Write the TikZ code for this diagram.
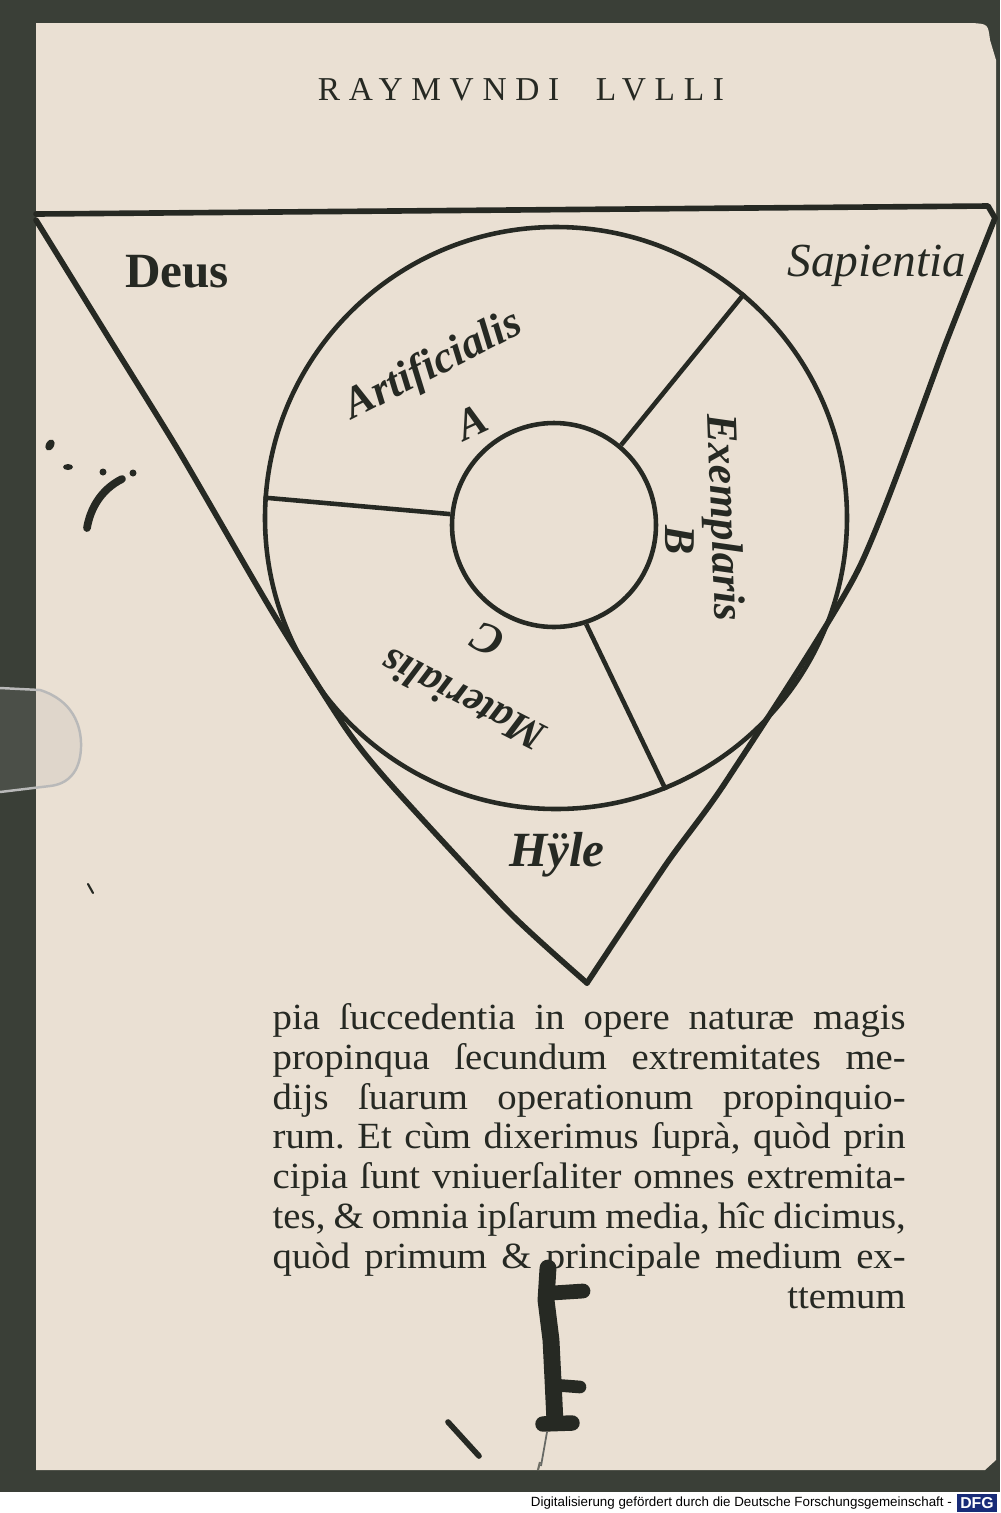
\documentclass[tikz,border=0pt]{standalone}
\usepackage{fontspec}
\setmainfont{Liberation Serif}
\newfontfamily\bodyfont[FakeStretch=1.05]{Liberation Serif}
\newfontfamily\dfgfont{Liberation Sans}
\usetikzlibrary{positioning}
\definecolor{paper}{RGB}{234,224,211}
\definecolor{inkc}{RGB}{38,41,35}
\definecolor{backc}{RGB}{58,63,55}
\definecolor{dfgblue}{RGB}{24,44,120}
\newlength{\bodyw}
\setlength{\bodyw}{63.3mm}
\frenchspacing

\begin{document}
\begin{tikzpicture}[x=0.1mm, y=-0.1mm,
    page_ink/.style={draw=inkc, line width=1.6pt, line cap=round, line join=round},
    wheel/.style={circle, draw=inkc, line width=1.3pt, inner sep=0pt},
    spoke/.style={draw=inkc, line width=1.3pt},
    goth_label/.style={text=inkc, inner sep=0pt, font=\bfseries\itshape\fontsize{12.5}{13}\selectfont},
    body_line/.style={text=inkc, anchor=base west, inner sep=0pt, font=\bodyfont\fontsize{10.5}{12}\selectfont},
    speck/.style={fill=inkc}
  ]
  % page and scanner background
  \useasboundingbox (0,0) rectangle (1000,1513);
  \fill[white] (0,0) rectangle (1000,1513);
  \fill[backc] (0,0) rectangle (1000,1492);
  \fill[paper] (36,23) -- (972,23) .. controls (988,24) .. (990,40) -- (996,60) -- (996,1460) -- (985,1470) -- (36,1470) -- cycle;
  \draw[backc!70!paper, line width=0.6pt] (538,1470) -- (540,1462);

  % running head
  \node[text=inkc, font=\fontsize{9.5}{10}\selectfont\addfontfeature{LetterSpace=26}] (head) at (521,90) {RAYMVNDI\hspace{1.1em}LVLLI};

  % the triangle
  \draw[page_ink] (36,214) -- (988,206) -- (995,218);
  \draw[page_ink] plot[smooth, tension=0.4] coordinates {(995,218) (947,340) (858,570) (727,780) (667,863) (587,983)};
  \draw[page_ink] plot[smooth, tension=0.4] coordinates {(36,220) (107,335) (180,453) (273,613) (347,730) (393,787) (510,913) (587,983)};

  % the wheel
  \node[wheel, minimum size=58.2mm] (rim) at (556,518) {};
  \node[wheel, minimum size=20.4mm] (hub) at (554,525) {};
  \draw[spoke] (hub.174) -- (rim.176);
  \draw[spoke] (hub.50) -- (rim.50);
  \draw[spoke] (hub.-72) -- (rim.-68);

  % corner words
  \node[goth_label, font=\bfseries\fontsize{14}{14}\selectfont] (deus) at (177,272) {Deus};
  \node[text=inkc, inner sep=0pt, font=\itshape\fontsize{13.5}{14}\selectfont] (sapientia) at (877,266) {Sapientia};
  \node[goth_label, font=\bfseries\itshape\fontsize{14}{14}\selectfont] (hyle) at (557,855) {Hÿle};

  % the three fields of the wheel
  \node[goth_label, rotate=27] (artificialis) at (434,366) {Artificialis};
  \node[goth_label, rotate=25] (fieldA) at (472,422) {A};
  \node[goth_label, rotate=-88] (exemplaris) at (722,518) {Exemplaris};
  \node[goth_label, rotate=-90] (fieldB) at (680,540) {B};
  \node[goth_label, font=\bfseries\itshape\fontsize{12}{12}\selectfont, rotate=153] (materialis) at (463,700) {Materialis};
  \node[goth_label, rotate=153] (fieldC) at (488,640) {C};

  % text below the figure
  \node[body_line] (line1) at (272,1029) {\makebox[\bodyw][s]{pia ſuccedentia in opere naturæ magis}};
  \node[body_line] (line2) at (272,1069) {\makebox[\bodyw][s]{propinqua ſecundum extremitates me-}};
  \node[body_line] (line3) at (272,1109) {\makebox[\bodyw][s]{dijs ſuarum operationum propinquio-}};
  \node[body_line] (line4) at (272,1148) {\makebox[\bodyw][s]{rum. Et cùm dixerimus ſuprà, quòd prin}};
  \node[body_line] (line5) at (272,1188) {\makebox[\bodyw][s]{cipia ſunt vniuerſaliter omnes extremita-}};
  \node[body_line] (line6) at (272,1228) {\makebox[\bodyw][s]{tes, \& omnia ipſarum media, hîc dicimus,}};
  \node[body_line] (line7) at (272,1268) {\makebox[\bodyw][s]{quòd primum \& principale medium ex-}};
  \node[body_line] (line8) at (272,1308) {\makebox[\bodyw][r]{ttemum}};

  % stains and specks
  \fill[speck] (50,445) ellipse[x radius=4, y radius=6, rotate=-30];
  \fill[speck] (68,467) ellipse[x radius=5, y radius=3];
  \fill[speck] (103,472) circle[radius=3.5];
  \fill[speck] (133,473) circle[radius=3.5];
  \draw[inkc, line width=2.2pt, line cap=round] (122,479) .. controls (100,490) and (90,510) .. (87,528);
  \draw[inkc, line width=0.6pt, line cap=round] (88,884) -- (93,893);
  \draw[inkc, line width=4.8pt, line cap=round] (548,1268) -- (546,1300) -- (551,1340) -- (553,1380) -- (555,1422);
  \draw[inkc, line width=4.2pt, line cap=round] (552,1293) -- (583,1291);
  \draw[inkc, line width=3.6pt, line cap=round] (554,1385) -- (580,1387);
  \draw[inkc, line width=4.4pt, line cap=round] (543,1424) -- (572,1423);
  \draw[inkc!70, line width=0.5pt] (547,1432) -- (541,1466);
  \draw[inkc, line width=1.6pt, line cap=round] (448,1422) -- (479,1456);

  % plastic clip at the left edge
  \fill[gray!70, opacity=0.16] (0,688) -- (40,690) .. controls (72,700) and (82,725) .. (81,748) .. controls (80,772) and (68,784) .. (50,786) -- (0,792) -- cycle;
  \draw[gray!55, line width=0.7pt] (0,688) -- (40,690) .. controls (72,700) and (82,725) .. (81,748) .. controls (80,772) and (68,784) .. (50,786) -- (0,792);

  % footer of the scan
  \node[fill=dfgblue, text=white, inner sep=1pt, font=\dfgfont\bfseries\fontsize{4.5}{5}\selectfont] (dfg) at (977,1503) {DFG};
  \node[left=1pt of dfg, inner sep=0pt, font=\dfgfont\fontsize{3.8}{4}\selectfont] (dfgnote) {Digitalisierung gefördert durch die Deutsche Forschungsgemeinschaft -};
\end{tikzpicture}
\end{document}
